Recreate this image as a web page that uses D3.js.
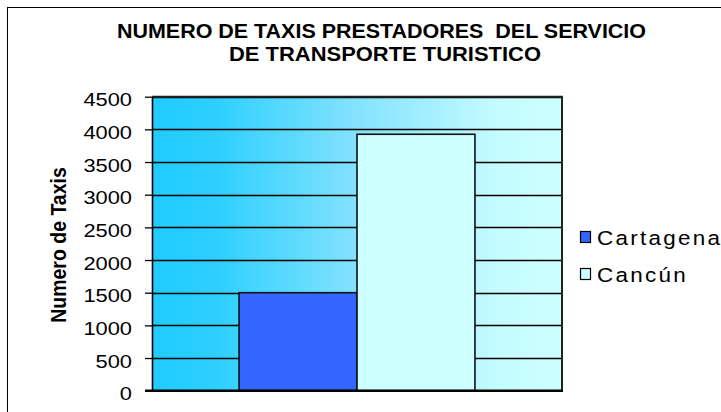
<html>
<head>
<meta charset="utf-8">
<script src="https://d3js.org/d3.v7.min.js"></script>
<style>
  body { margin: 0; background: #fff; }
  text { font-family: "Liberation Sans", Arial, sans-serif; fill: #000; white-space: pre; }
</style>
</head>
<body>
<svg width="721" height="412"></svg>
<script>
// data
var titleLines = ["NUMERO DE TAXIS PRESTADORES  DEL SERVICIO", "DE TRANSPORTE TURISTICO"];
var yLabel = "Numero de Taxis";
var series = ["Cartagena", "Cancún"];
var values = [1500, 3925];
var yTicks = [0, 500, 1000, 1500, 2000, 2500, 3000, 3500, 4000, 4500];

var svg = d3.select("svg");
var sx = 1.15; // the original chart is stretched sideways

var plot = {left: 152, right: 562, top: 96.7, bottom: 390.7};

var y = d3.scaleLinear().domain([0, 4500]).range([plot.bottom, plot.top]);
var xGroup = d3.scaleBand().domain(["g"]).range([plot.left, plot.right]).paddingInner(0).paddingOuter(0.369);
var xSeries = d3.scaleBand().domain(series).range([0, xGroup.bandwidth()]).padding(0);
var color = d3.scaleOrdinal(series, ["#3366FF", "#CCFFFF"]);

// outer frame
svg.append("rect").attr("x", 7.5).attr("y", 7.5).attr("width", 800).attr("height", 500)
  .attr("fill", "#fff").attr("stroke", "#000").attr("stroke-width", 1);

// background gradient
var grad = svg.append("defs").append("linearGradient").attr("id", "bg")
  .attr("x1", "0%").attr("x2", "100%").attr("y1", "0%").attr("y2", "0%");
grad.append("stop").attr("offset", "0%").attr("stop-color", "#1ECCFF");
grad.append("stop").attr("offset", "15%").attr("stop-color", "#2CCFFF");
grad.append("stop").attr("offset", "50%").attr("stop-color", "#84E2FF");
grad.append("stop").attr("offset", "85%").attr("stop-color", "#C6FCFF");
grad.append("stop").attr("offset", "100%").attr("stop-color", "#CCFFFF");

svg.append("rect").attr("x", plot.left).attr("y", plot.top)
  .attr("width", plot.right - plot.left).attr("height", plot.bottom - plot.top)
  .attr("fill", "url(#bg)");

// gridlines
svg.append("g").selectAll("line").data(yTicks.slice(1)).enter().append("line")
  .attr("x1", plot.left).attr("x2", plot.right)
  .attr("y1", function(d){ return Math.round(y(d)) + 0.5; })
  .attr("y2", function(d){ return Math.round(y(d)) + 0.5; })
  .attr("stroke", "#000").attr("stroke-width", 1.3);

// bars
svg.append("g").selectAll("rect").data(values).enter().append("rect")
  .attr("x", function(d, i){ return xGroup("g") + xSeries(series[i]); })
  .attr("y", function(d){ return y(d); })
  .attr("width", xSeries.bandwidth())
  .attr("height", function(d){ return y(0) - y(d); })
  .attr("fill", function(d, i){ return color(series[i]); })
  .attr("stroke", "#111").attr("stroke-width", 1.6);

// plot border (top / right)
svg.append("path")
  .attr("d", "M" + plot.left + "," + plot.top + "H" + plot.right + "V" + plot.bottom)
  .attr("fill", "none").attr("stroke", "#222").attr("stroke-width", 2);

// y axis
var yAxis = d3.axisLeft(y).tickValues(yTicks).tickSize(7).tickSizeOuter(0).tickFormat(d3.format("d"));
var ax = svg.append("g").attr("transform", "translate(" + plot.left + ",0)").call(yAxis);
ax.select(".domain").attr("stroke", "#000").attr("stroke-width", 1.6);
ax.selectAll(".tick line").attr("stroke", "#000").attr("stroke-width", 1.3);
ax.selectAll(".tick text").remove();
ax.selectAll(".tick").append("text")
  .attr("transform", "translate(-20,9) scale(" + sx + ",1)")
  .attr("text-anchor", "end")
  .style("font-size", "19px")
  .text(function(d){ return d; });

// x axis baseline
svg.append("line").attr("x1", plot.left - 7).attr("x2", plot.right + 1)
  .attr("y1", plot.bottom).attr("y2", plot.bottom)
  .attr("stroke", "#000").attr("stroke-width", 2.4);

// title
var titleX = [381.5, 385];
var titleY = [38, 61];
var titleW = [529, 312];
svg.append("g").selectAll("text").data(titleLines).enter().append("text")
  .attr("x", function(d, i){ return titleX[i]; })
  .attr("y", function(d, i){ return titleY[i]; })
  .attr("text-anchor", "middle")
  .attr("textLength", function(d, i){ return titleW[i]; })
  .attr("lengthAdjust", "spacingAndGlyphs")
  .style("font-size", "20px").style("font-weight", "bold")
  .text(function(d){ return d; });

// y label
svg.append("text")
  .attr("transform", "translate(66,245) scale(" + sx + ",1) rotate(-90)")
  .attr("text-anchor", "middle")
  .style("font-size", "19.5px").style("font-weight", "bold")
  .text(yLabel);

// legend
var legY = d3.scalePoint().domain(series).range([237, 274]);
var leg = svg.append("g").selectAll("g").data(series).enter().append("g")
  .attr("transform", function(d){ return "translate(580," + legY(d) + ")"; });
leg.append("rect").attr("x", 0.5).attr("y", -5.5).attr("width", 10).attr("height", 11)
  .attr("fill", function(d){ return color(d); }).attr("stroke", "#000").attr("stroke-width", 1.2);
leg.append("text")
  .attr("transform", "translate(17,7.5) scale(" + sx + ",1)")
  .style("font-size", "19.5px").style("letter-spacing", "2px")
  .text(function(d){ return d; });
</script>
</body>
</html>
